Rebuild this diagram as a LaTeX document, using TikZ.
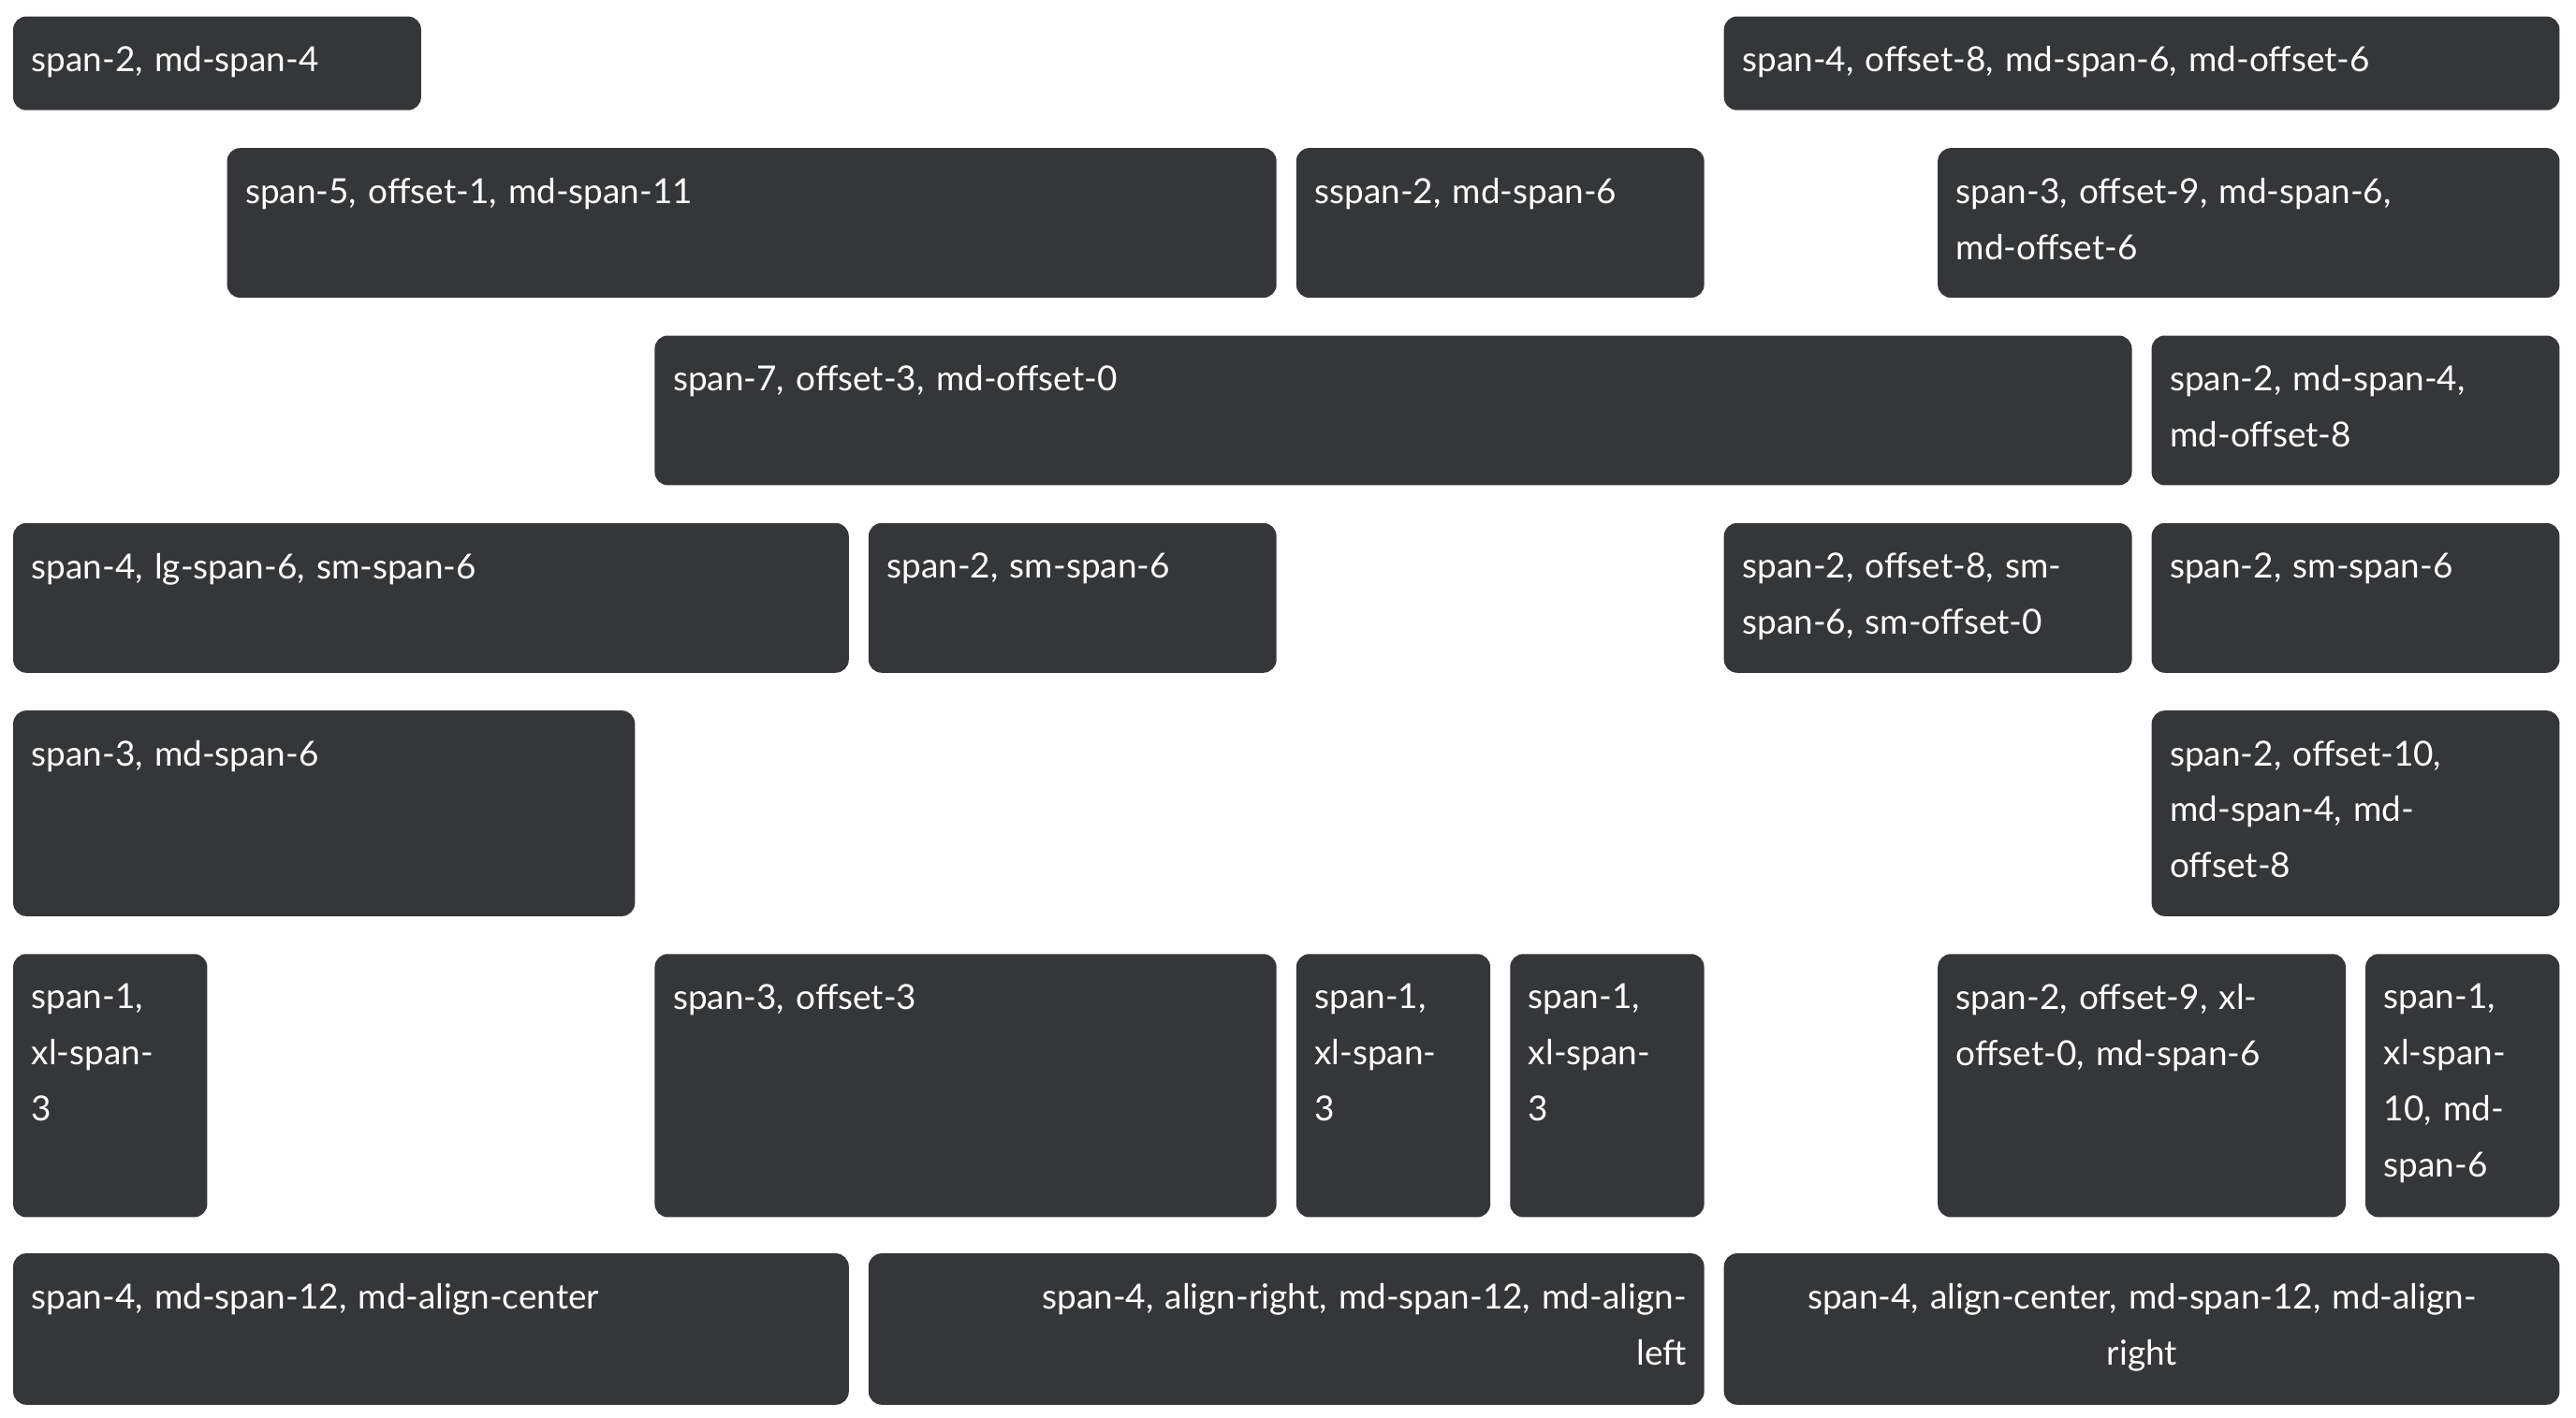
\documentclass[tikz,border=0pt]{standalone}
\usepackage{fontspec}
\setmainfont{Lato}
\usetikzlibrary{positioning}
\definecolor{cellgray}{HTML}{353638}
\tikzset{
  cell/.style={fill=cellgray, rounded corners=8pt},
  cell text/.style={anchor=north west, inner sep=0pt, text=white, font=\fontsize{21}{34}\selectfont}
}
\begin{document}
\begin{tikzpicture}[x=1pt, y=1pt]
	\useasboundingbox (0,0) rectangle (1566,-862);
	% grid cells: column/span/top/bottom/alignment/text
	\foreach \col/\ncols/\ytop/\ybot/\al/\txt [count=\i] in {
		0/2/10/67/left/{span-2, md-span-4},
		8/4/10/67/left/{span-4, offset-8, md-span-6, md-offset-6},
		1/5/90/181/left/{span-5, offset-1, md-span-11},
		6/2/90/181/left/{sspan-2, md-span-6},
		9/3/90/181/left/{span-3, offset-9, md-span-6,\\md-offset-6},
		3/7/204/295/left/{span-7, offset-3, md-offset-0},
		10/2/204/295/left/{span-2, md-span-4,\\md-offset-8},
		0/4/318/409/left/{span-4, lg-span-6, sm-span-6},
		4/2/318/409/left/{span-2, sm-span-6},
		8/2/318/409/left/{span-2, offset-8, sm-\\span-6, sm-offset-0},
		10/2/318/409/left/{span-2, sm-span-6},
		0/3/432/557/left/{span-3, md-span-6},
		10/2/432/557/left/{span-2, offset-10,\\md-span-4, md-\\offset-8},
		0/1/580/740/left/{span-1,\\xl-span-\\3},
		3/3/580/740/left/{span-3, offset-3},
		6/1/580/740/left/{span-1,\\xl-span-\\3},
		7/1/580/740/left/{span-1,\\xl-span-\\3},
		9/2/580/740/left/{span-2, offset-9, xl-\\offset-0, md-span-6},
		11/1/580/740/left/{span-1,\\xl-span-\\10, md-\\span-6},
		0/4/762/854/left/{span-4, md-span-12, md-align-center},
		4/4/762/854/right/{span-4, align-right, md-span-12, md-align-\\left},
		8/4/762/854/center/{span-4, align-center, md-span-12, md-align-\\right}}
	{
		\pgfmathsetmacro{\xl}{8+130*\col}
		\pgfmathsetmacro{\bw}{130*\ncols-12}
		\pgfmathsetmacro{\tw}{\bw-22}
		\pgfmathsetmacro{\bh}{\ybot-\ytop}
		\path[cell] (\xl,-\ytop) rectangle ++(\bw,-\bh);
		\node[cell text, text width=\tw pt, align=\al] (cell\i) at (\xl+11,-\ytop-18) {\txt};
	}
\end{tikzpicture}
\end{document}
